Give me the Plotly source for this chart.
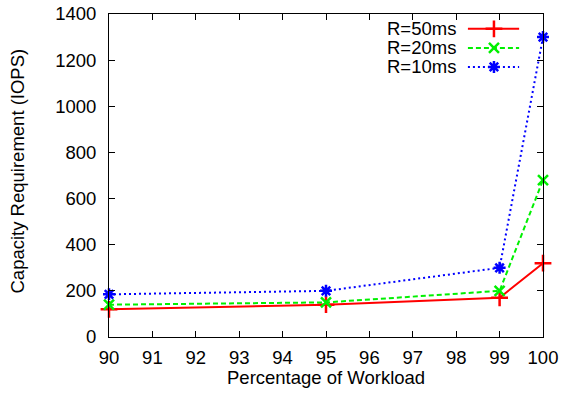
import plotly.graph_objects as go

percent = [90, 95, 99, 100]
r50 = [120, 140, 170, 320]
r20 = [140, 150, 200, 680]
r10 = [185, 200, 300, 1300]
series_names = ["R=50ms", "R=20ms", "R=10ms"]
x_ticks = list(range(90, 101))
y_ticks = list(range(0, 1401, 200))

FS = 18.5
styles = [
    dict(color="#ff0000", dash="solid", symbol="cross-thin-open", size=12),
    dict(color="#00f000", dash="5px,3px", symbol="x-thin-open", size=10),
    dict(color="#0000ff", dash="2px,3px", symbol="asterisk-open", size=10),
]

fig = go.Figure()
for name, vals, st in zip(series_names, [r50, r20, r10], styles):
    fig.add_trace(go.Scatter(
        x=percent, y=vals, mode="lines+markers", name=name,
        line=dict(color=st["color"], width=2, dash=st["dash"]),
        marker=dict(symbol=st["symbol"], size=st["size"], color=st["color"],
                    line=dict(color=st["color"], width=2.5)),
        showlegend=False, cliponaxis=False,
    ))

# gnuplot-style legend (text left of sample), drawn on an overlay axis
leg_y = [0.954, 0.895, 0.836]
for name, st, yy in zip(series_names, styles, leg_y):
    fig.add_trace(go.Scatter(
        x=[0.827, 0.945], y=[yy, yy], mode="lines", xaxis="x2", yaxis="y2",
        line=dict(color=st["color"], width=2, dash=st["dash"]), showlegend=False,
        hoverinfo="skip",
    ))
    fig.add_trace(go.Scatter(
        x=[0.887], y=[yy], mode="markers", xaxis="x2", yaxis="y2",
        marker=dict(symbol=st["symbol"], size=st["size"], color=st["color"],
                    line=dict(color=st["color"], width=2.5)),
        showlegend=False, hoverinfo="skip",
    ))
    fig.add_annotation(x=0.805, y=yy, xref="x2", yref="y2", text=name,
                       showarrow=False, xanchor="right", yanchor="middle",
                       font=dict(size=FS, color="black"))

fig.add_annotation(x=0.5, y=-0.124, xref="paper", yref="paper",
                   text="Percentage of Workload", showarrow=False,
                   xanchor="center", yanchor="middle", font=dict(size=FS, color="black"))
fig.add_annotation(x=-0.21, y=0.515, xref="paper", yref="paper",
                   text="Capacity Requirement (IOPS)", showarrow=False, textangle=-90,
                   xanchor="center", yanchor="middle", font=dict(size=FS, color="black"))

axis_common = dict(
    showline=True, linecolor="black", linewidth=1, mirror="ticks",
    ticks="inside", ticklen=6, tickcolor="black", showgrid=False, zeroline=False,
    tickfont=dict(size=FS, color="black"), automargin=False,
)
fig.update_layout(
    width=562, height=398,
    margin=dict(l=109, r=19, t=14, b=61),
    paper_bgcolor="white", plot_bgcolor="white",
    font=dict(family="Liberation Sans, Arial, sans-serif", size=FS, color="black"),
    xaxis=dict(range=[90, 100], tickvals=x_ticks, ticklabelstandoff=4, **axis_common),
    yaxis=dict(range=[0, 1400], tickvals=y_ticks, ticklabelstandoff=8, **axis_common),
    xaxis2=dict(overlaying="x", range=[0, 1], visible=False),
    yaxis2=dict(overlaying="y", range=[0, 1], visible=False),
)

fig.write_html("out.html", config={"displayModeBar": False},
               post_script="document.body.style.margin='0';document.body.style.overflow='hidden';")
